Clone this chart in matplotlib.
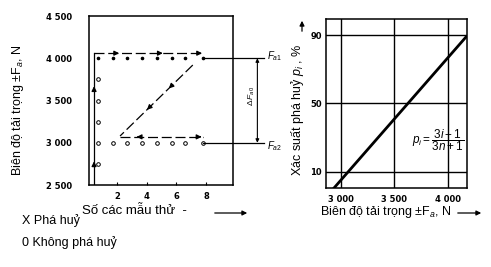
import numpy as np
import matplotlib.pyplot as plt

plt.rcParams['font.family'] = ['Liberation Sans', 'DejaVu Sans']
plt.rcParams['mathtext.fontset'] = 'custom'
plt.rcParams['mathtext.rm'] = 'Liberation Sans'
plt.rcParams['mathtext.it'] = 'Liberation Sans:italic'

# left panel: staircase test, positions of specimens
row_x = [0.7, 1.7, 2.7, 3.7, 4.7, 5.7, 6.6, 7.8]
upper_level = 4000
lower_level = 3000
col_x = 0.7
col_y = [2750, 3250, 3500, 3750]
left_yticks = [2500, 3000, 3500, 4000, 4500]
left_yticklabels = ['2 500', '3 000', '3 500', '4 000', '4 500']
left_xticks = [2, 4, 6, 8]

# test path (arrows)
up_x, up_y = [0.45, 0.45], [2500, 4060]
top_x, top_y = [0.45, 7.8], [4060, 4060]
diag_x, diag_y = [7.1, 2.2], [3920, 3080]
bot_x, bot_y = [2.2, 7.8], [3070, 3070]

# right panel: failure probability line
load = [2935, 4170]
prob = [0.5, 89]
right_xticks = [3000, 3500, 4000]
right_xticklabels = ['3 000', '3 500', '4 000']
right_yticks = [10, 50, 90]

fig = plt.figure(figsize=(4.91, 2.67), dpi=100)
tick_font = dict(fontsize=6, fontweight='bold', family='DejaVu Sans')

# ---------- left panel ----------
ax1 = fig.add_axes([0.181, 0.307, 0.2933, 0.633])
ax1.set_xlim(0.1, 9.8)
ax1.set_ylim(2500, 4500)
ax1.set_yticks(left_yticks)
ax1.set_yticklabels(left_yticklabels, **tick_font)
ax1.set_xticks(left_xticks)
ax1.set_xticklabels([str(t) for t in left_xticks], **tick_font)
ax1.tick_params(axis='y', length=0, pad=12)
ax1.tick_params(axis='x', length=2, direction='in', pad=5)
for s in ax1.spines.values():
    s.set_linewidth(1.1)

ax1.plot(row_x, [upper_level] * len(row_x), ls='none', marker='o', ms=1.6,
         color='black')
ax1.plot(row_x, [lower_level] * len(row_x), ls='none', marker='o', ms=2.6,
         mfc='white', mec='black', mew=0.7)
ax1.plot([col_x] * len(col_y), col_y, ls='none', marker='o', ms=2.6,
         mfc='white', mec='black', mew=0.7)

ax1.plot(up_x, up_y, color='black', lw=0.9)
ax1.plot(top_x, top_y, color='black', lw=0.9, ls=(0, (8, 3)))
ax1.plot(diag_x, diag_y, color='black', lw=0.9, ls=(0, (8, 3)))
ax1.plot(bot_x, bot_y, color='black', lw=0.9, ls=(0, (8, 3)))


def head(ax, x0, y0, x1, y1):
    ax.annotate('', xy=(x1, y1), xytext=(x0, y0),
                arrowprops=dict(arrowstyle='-|>', color='black', lw=0.9,
                                mutation_scale=7, shrinkA=0, shrinkB=0))


def along(xs, ys, t, d=0.03):
    x = xs[0] + (xs[1] - xs[0]) * t
    y = ys[0] + (ys[1] - ys[0]) * t
    return x, y, xs[0] + (xs[1] - xs[0]) * (t + d), ys[0] + (ys[1] - ys[0]) * (t + d)


for t in [0.15, 0.72]:
    head(ax1, *along(up_x, up_y, t))
for t in [0.2, 0.6, 0.96]:
    head(ax1, *along(top_x, top_y, t))
for t in [0.3, 0.6]:
    head(ax1, *along(diag_x, diag_y, t))
x0, y0, x1, y1 = along(bot_x, bot_y, 0.2)
head(ax1, x1, y1, x0, y0)
head(ax1, *along(bot_x, bot_y, 0.95))

# leader lines and dimension
ax1.plot([7.8, 11.9], [upper_level, upper_level], color='black', lw=0.9,
         clip_on=False)
ax1.plot([7.8, 11.9], [lower_level, lower_level], color='black', lw=0.9,
         clip_on=False)
ax1.annotate('', xy=(11.45, upper_level), xytext=(11.45, lower_level),
             arrowprops=dict(arrowstyle='<|-|>', color='black', lw=0.8,
                             mutation_scale=5, shrinkA=0, shrinkB=0),
             annotation_clip=False)
ax1.text(11.1, 3550, r'$\Delta\,F_{a0}$', rotation=90, fontsize=6,
         ha='center', va='center', clip_on=False)
ax1.text(12.1, upper_level + 20, r'$F_{a1}$', fontsize=7, ha='left',
         va='center', clip_on=False)
ax1.text(12.1, lower_level - 40, r'$F_{a2}$', fontsize=7, ha='left',
         va='center', clip_on=False)

ax1.set_ylabel(r'Biên độ tải trọng ±F$_a$, N', fontsize=9)
ax1.yaxis.set_label_coords(-0.44, 0.44)

# ---------- right panel ----------
ax2 = fig.add_axes([0.664, 0.296, 0.287, 0.633])
ax2.set_xlim(2860, 4178)
ax2.set_ylim(0.5, 99.5)
ax2.set_xticks(right_xticks)
ax2.set_xticklabels(right_xticklabels, **tick_font)
ax2.set_yticks(right_yticks)
ax2.set_yticklabels([str(t) for t in right_yticks], **tick_font)
ax2.tick_params(length=0)
ax2.tick_params(axis='y', pad=3)
ax2.tick_params(axis='x', pad=5)
ax2.grid(True, color='black', lw=1.0)
for s in ax2.spines.values():
    s.set_linewidth(1.1)
ax2.plot(load, prob, color='black', lw=2.0)
ax2.text(3660, 28.5, r'$p_i = \dfrac{3i-1}{3n+1}$', fontsize=8.5,
         ha='left', va='center')
ax2.set_ylabel(r'Xác suất phá huỷ $p_i$ , %', fontsize=9)
ax2.yaxis.set_label_coords(-0.145, 0.46)

# ---------- figure texts ----------
def fig_arrow(x0, y0, x1, y1):
    fig.add_artist(plt.matplotlib.patches.FancyArrowPatch(
        (x0 / 491, 1 - y0 / 267), (x1 / 491, 1 - y1 / 267),
        transform=fig.transFigure, arrowstyle='-|>', mutation_scale=7,
        color='black', lw=0.9))


fig_arrow(302, 34, 302, 18)
fig.text(82 / 491, 1 - 211 / 267, 'Số các mẫu thử  -', fontsize=9.5,
         ha='left', va='center')
fig_arrow(212, 213, 250, 213)
fig.text(320 / 491, 1 - 212 / 267, r'Biên độ tải trọng ±F$_a$, N', fontsize=9,
         ha='left', va='center')
fig_arrow(455, 213, 484, 213)
fig.text(22 / 491, 1 - 221 / 267, 'X Phá huỷ', fontsize=9, ha='left',
         va='center')
fig.text(22 / 491, 1 - 243 / 267, '0 Không phá huỷ', fontsize=9, ha='left',
         va='center')

fig.savefig('out.png', dpi=100)
